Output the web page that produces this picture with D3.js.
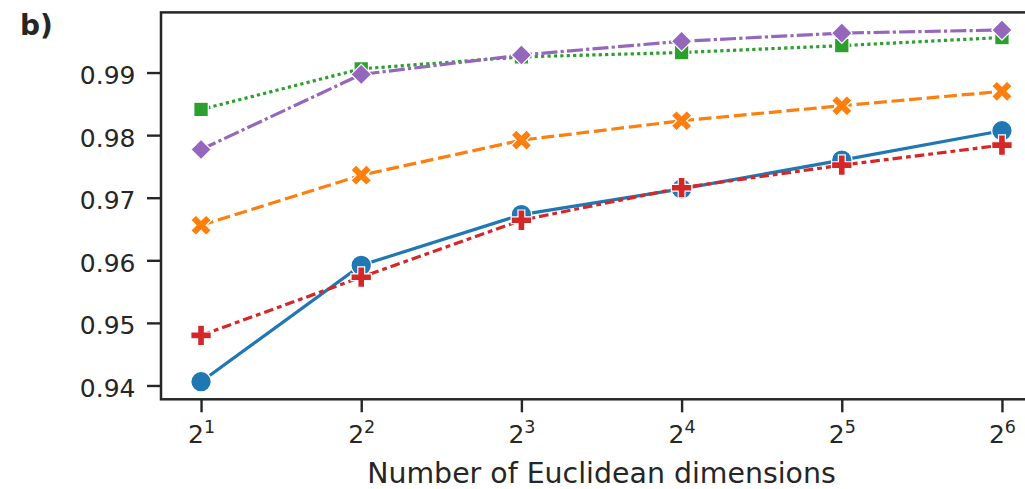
<!DOCTYPE html>
<html>
<head>
<meta charset="utf-8">
<script src="https://cdn.jsdelivr.net/npm/d3@7"></script>
<style>
  body { margin: 0; background: #fff; }
  text { font-family: "DejaVu Sans", sans-serif; fill: #262626; }
</style>
</head>
<body>
<svg id="chart" width="1025" height="489"></svg>
<script>
// Number of Euclidean dimensions (x) and the exponent shown on each tick
const dims = [2, 4, 8, 16, 32, 64];
const dimExponents = ["1", "2", "3", "4", "5", "6"];
const yTickValues = [0.94, 0.95, 0.96, 0.97, 0.98, 0.99];

// Score for each configuration, one array per line
const seriesBlue   = [0.9406, 0.9592, 0.9673, 0.9714, 0.9760, 0.9807];
const seriesOrange = [0.9656, 0.9736, 0.9792, 0.9823, 0.9847, 0.9870];
const seriesGreen  = [0.9841, 0.9906, 0.9925, 0.9932, 0.9943, 0.9956];
const seriesRed    = [0.9480, 0.9573, 0.9664, 0.9716, 0.9752, 0.9784];
const seriesPurple = [0.9777, 0.9897, 0.9928, 0.9950, 0.9963, 0.9968];

const lw = 3.2;
const ms = 20.5;
const series = [
  { values: seriesBlue,   color: "#1f77b4", dash: null,               marker: "circle" },
  { values: seriesOrange, color: "#ff7f0e", dash: [4, 1.5],           marker: "x" },
  { values: seriesGreen,  color: "#2ca02c", dash: [1, 1],             marker: "square" },
  { values: seriesRed,    color: "#d62728", dash: [3, 1.25, 1.5, 1.25], marker: "plus" },
  { values: seriesPurple, color: "#9467bd", dash: [5, 1, 1, 1],       marker: "diamond" }
];

const svg = d3.select("#chart");
const frame = { left: 161, right: 1042, top: 12.4, bottom: 399.3 };

// 5% margins around the data, as in the plotting defaults
const lx = dims.map(Math.log2);
const lxr = d3.max(lx) - d3.min(lx);
const x = d3.scaleLog().base(2)
  .domain([2 ** (d3.min(lx) - 0.05 * lxr), 2 ** (d3.max(lx) + 0.05 * lxr)])
  .range([frame.left, frame.right]);

const allVals = series.flatMap(s => s.values);
const ymn = d3.min(allVals), ymx = d3.max(allVals), yr = ymx - ymn;
const y = d3.scaleLinear()
  .domain([ymn - 0.05 * yr, ymx + 0.05 * yr])
  .range([frame.bottom, frame.top]);

// Y axis
const yAxis = svg.append("g")
  .attr("transform", `translate(${frame.left},0)`)
  .call(d3.axisLeft(y).tickValues(yTickValues).tickSize(14).tickSizeOuter(0)
    .tickPadding(11.5).tickFormat(d3.format(".2f")));
yAxis.select(".domain").remove();
yAxis.selectAll(".tick line").attr("stroke", "#262626").attr("stroke-width", 2.4);
yAxis.selectAll(".tick text")
  .attr("font-size", 25).attr("dy", null).attr("y", 11)
  .attr("fill", "#262626").style("font-family", "DejaVu Sans");

// X axis with power-of-two labels
const xAxis = svg.append("g")
  .attr("transform", `translate(0,${frame.bottom})`)
  .call(d3.axisBottom(x).tickValues(dims).tickSize(13).tickSizeOuter(0).tickFormat(() => ""));
xAxis.select(".domain").remove();
xAxis.selectAll(".tick line").attr("stroke", "#262626").attr("stroke-width", 2.4);
xAxis.selectAll(".tick text").each(function(d, i) {
  const t = d3.select(this)
    .attr("dy", null).attr("y", 443 - frame.bottom)
    .attr("font-size", 25).attr("fill", "#262626").attr("text-anchor", "middle")
    .style("font-family", "DejaVu Sans");
  t.append("tspan").text("2");
  t.append("tspan").attr("font-size", 17.5).attr("dy", -9.6).text(dimExponents[i]);
});

// Frame
svg.append("rect")
  .attr("x", frame.left).attr("y", frame.top)
  .attr("width", frame.right - frame.left).attr("height", frame.bottom - frame.top)
  .attr("fill", "none").attr("stroke", "#262626").attr("stroke-width", 2.5);

// Marker shapes
function markerPath(kind, s) {
  const h = s / 2;
  let pts;
  if (kind === "diamond") pts = [[0, -h], [h, 0], [0, h], [-h, 0]];
  else if (kind === "square") { const a = s / Math.SQRT2 / 2; pts = [[-a, -a], [a, -a], [a, a], [-a, a]]; }
  else if (kind === "plus") pts = [[-1,-3],[1,-3],[1,-1],[3,-1],[3,1],[1,1],[1,3],[-1,3],[-1,1],[-3,1],[-3,-1],[-1,-1]].map(p => [p[0] * s / 6, p[1] * s / 6]);
  else if (kind === "x") pts = [[-1,-2],[0,-1],[1,-2],[2,-1],[1,0],[2,1],[1,2],[0,1],[-1,2],[-2,1],[-1,0],[-2,-1]].map(p => [p[0] * s / 4, p[1] * s / 4]);
  return "M" + pts.map(p => p.join(",")).join("L") + "Z";
}

const line = d3.line().x((d, i) => x(dims[i])).y(d => y(d));

series.forEach(s => {
  const g = svg.append("g");
  g.append("path")
    .attr("d", line(s.values))
    .attr("fill", "none")
    .attr("stroke", s.color)
    .attr("stroke-width", lw)
    .attr("stroke-dasharray", s.dash ? s.dash.map(v => v * lw).join(",") : null);
  s.values.forEach((v, i) => {
    const cx = x(dims[i]), cy = y(v);
    if (s.marker === "circle") {
      g.append("circle").attr("cx", cx).attr("cy", cy).attr("r", ms / 2)
        .attr("fill", s.color).attr("stroke", "#fff").attr("stroke-width", 1.2);
    } else {
      g.append("path").attr("d", markerPath(s.marker, ms))
        .attr("transform", `translate(${cx},${cy})`)
        .attr("fill", s.color).attr("stroke", "#fff").attr("stroke-width", 1.2);
    }
  });
});

// Axis title and panel letter
svg.append("text")
  .attr("x", (frame.left + frame.right) / 2).attr("y", 483.3)
  .attr("text-anchor", "middle").attr("font-size", 28.4)
  .text("Number of Euclidean dimensions");

svg.append("text")
  .attr("x", 20).attr("y", 35)
  .attr("font-size", 28).attr("font-weight", "bold")
  .text("b)");
</script>
</body>
</html>
